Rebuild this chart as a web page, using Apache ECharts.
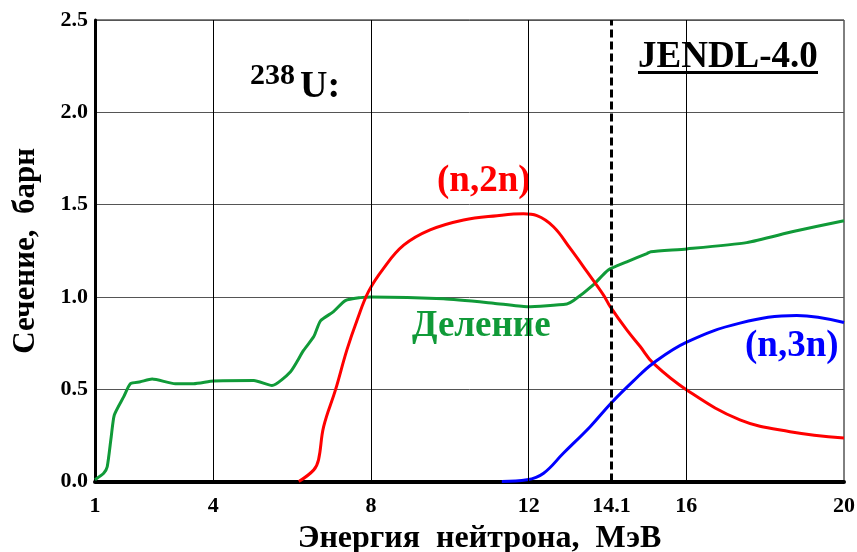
<!DOCTYPE html>
<html>
<head>
<meta charset="utf-8">
<script src="https://cdn.jsdelivr.net/npm/echarts@6/dist/echarts.min.js"></script>
<style>
  html, body { margin: 0; padding: 0; background: #fff; }
  #chart { width: 857px; height: 552px; }
</style>
</head>
<body>
<div id="chart"></div>
<script>
// Neutron energy axis labels (MeV) and vertical grid positions
const xTickLabels = [1, 4, 8, 12, 14.1, 16, 20];
const xGridLines = [4, 8, 12, 16];
const markerEnergy = 14.1;

// U-238 fission cross section (barn)
const fissionE  = [1.0, 1.22, 1.31, 1.41, 1.49, 1.73, 1.90, 2.15, 2.45, 3.04, 3.50, 4.01, 5.03, 5.49, 5.96, 6.29, 6.55, 6.72, 7.05, 7.35, 7.73, 8.0, 9.84, 11.11, 11.96, 12.97, 13.14, 13.64, 14.02, 14.49, 15.0, 15.1, 16.01, 17.53, 18.71, 20.0];
const fissionXS = [0.01, 0.045, 0.08, 0.24, 0.36, 0.46, 0.53, 0.54, 0.555, 0.53, 0.53, 0.545, 0.547, 0.52, 0.595, 0.71, 0.785, 0.87, 0.92, 0.98, 0.996, 1.0, 0.99, 0.966, 0.947, 0.962, 0.98, 1.065, 1.146, 1.19, 1.235, 1.245, 1.26, 1.294, 1.354, 1.413];

// (n,2n) cross section (barn)
const n2nE  = [6.17, 6.55, 6.67, 6.80, 7.10, 7.39, 7.65, 7.94, 8.32, 8.83, 9.50, 10.35, 11.2, 11.87, 12.21, 12.63, 13.05, 13.48, 13.90, 14.07, 14.49, 14.83, 15.16, 16.01, 17.36, 18.63, 20.0];
const n2nXS = [0.0, 0.063, 0.117, 0.297, 0.496, 0.713, 0.875, 1.03, 1.155, 1.28, 1.363, 1.417, 1.44, 1.45, 1.44, 1.38, 1.264, 1.137, 1.01, 0.947, 0.821, 0.731, 0.641, 0.496, 0.334, 0.27, 0.235];

// (n,3n) cross section (barn)
const n3nE  = [11.32, 11.96, 12.38, 12.88, 13.56, 14.09, 14.66, 15.16, 16.01, 17.36, 18.80, 20.0];
const n3nXS = [0.0, 0.009, 0.045, 0.153, 0.297, 0.424, 0.545, 0.641, 0.755, 0.858, 0.899, 0.861];

const zip = (xs, ys) => xs.map((x, i) => [x, ys[i]]);

const serif = '"Liberation Serif", "Times New Roman", serif';
const GREEN = '#109a38';
const RED = '#ff0000';
const BLUE = '#0000ff';

const chart = echarts.init(document.getElementById('chart'), null, { renderer: 'canvas' });

chart.setOption({
  backgroundColor: '#ffffff',
  animation: false,
  grid: {
    left: 95, right: 13, top: 20, bottom: 70.5,
    outerBoundsMode: 'none',
    containLabel: false,
    show: true, borderColor: '#000', borderWidth: 1
  },
  xAxis: {
    type: 'value',
    min: 1, max: 20,
    name: 'Энергия  нейтрона,  МэВ',
    nameLocation: 'middle',
    nameGap: 39,
    nameTextStyle: { fontFamily: serif, fontWeight: 'bold', fontSize: 32, color: '#000', padding: [0, 0, 0, 20] },
    axisLine: { show: true, onZero: false, lineStyle: { color: '#000', width: 4 } },
    axisTick: { show: false },
    splitLine: { show: false },
    axisLabel: {
      customValues: xTickLabels,
      formatter: v => String(v),
      margin: 14,
      fontFamily: serif, fontWeight: 'bold', fontSize: 22, color: '#000'
    }
  },
  yAxis: {
    type: 'value',
    min: 0, max: 2.5, interval: 0.5,
    name: 'Сечение,  барн',
    nameLocation: 'middle',
    nameGap: 54,
    nameRotate: 90,
    nameTextStyle: { fontFamily: serif, fontWeight: 'bold', fontSize: 31, color: '#000' },
    axisLine: { show: true, lineStyle: { color: '#000', width: 3 } },
    axisTick: { show: false },
    splitLine: { show: true, lineStyle: { color: '#555', width: 1 } },
    axisLabel: {
      formatter: v => v.toFixed(1),
      margin: 7,
      fontFamily: serif, fontWeight: 'bold', fontSize: 22, color: '#000'
    }
  },
  series: [
    {
      name: 'grid',
      type: 'line',
      data: [],
      silent: true,
      markLine: {
        symbol: 'none',
        label: { show: false },
        silent: true,
        data: [
          ...xGridLines.map(x => ({ xAxis: x, lineStyle: { color: '#000', width: 1, type: 'solid' } })),
          { xAxis: markerEnergy, lineStyle: { color: '#000', width: 3, type: [8, 4] } }
        ]
      }
    },
    {
      name: 'Деление',
      type: 'line',
      data: zip(fissionE, fissionXS),
      showSymbol: false,
      smooth: 0.2,
      lineStyle: { color: GREEN, width: 3 },
      z: 3
    },
    {
      name: '(n,2n)',
      type: 'line',
      data: zip(n2nE, n2nXS),
      showSymbol: false,
      smooth: 0.4,
      lineStyle: { color: RED, width: 3 },
      z: 4
    },
    {
      name: '(n,3n)',
      type: 'line',
      data: zip(n3nE, n3nXS),
      showSymbol: false,
      smooth: 0.4,
      lineStyle: { color: BLUE, width: 3 },
      z: 4
    }
  ],
  graphic: [
    { type: 'text', left: 250, top: 61, style: { text: '238', fontFamily: serif, fontWeight: 'bold', fontSize: 30, fill: '#000' } },
    { type: 'text', left: 300, top: 68, style: { text: 'U:', fontFamily: serif, fontWeight: 'bold', fontSize: 38, fill: '#000' } },
    { type: 'text', left: 638, top: 39, style: { text: 'JENDL-4.0', fontFamily: serif, fontWeight: 'bold', fontSize: 37, fill: '#000' } },
    { type: 'rect', shape: { x: 638, y: 71, width: 180, height: 3 }, style: { fill: '#000' } },
    { type: 'text', left: 437, top: 163, style: { text: '(n,2n)', fontFamily: serif, fontWeight: 'bold', fontSize: 37, fill: RED } },
    { type: 'text', left: 412, top: 308, style: { text: 'Деление', fontFamily: serif, fontWeight: 'bold', fontSize: 37, fill: GREEN } },
    { type: 'text', left: 745, top: 328, style: { text: '(n,3n)', fontFamily: serif, fontWeight: 'bold', fontSize: 37, fill: BLUE } }
  ]
});
</script>
</body>
</html>
